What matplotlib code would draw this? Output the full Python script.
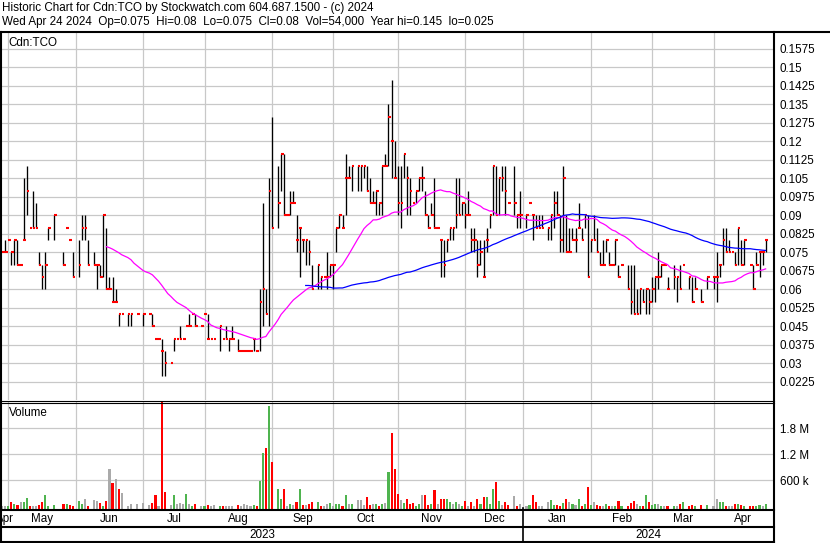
import numpy as np
import pandas as pd
import matplotlib
matplotlib.use("Agg")
import matplotlib.pyplot as plt

plt.rcParams['font.family'] = ['Liberation Sans', 'DejaVu Sans']

N = None
# ---------------- data (one entry per trading day, 2023-04-27 .. 2024-04-24; None = no trade)
high_apr23 = [.075, .08]
low_apr23 = [.075, .075]
close_apr23 = [.075, .075]
vol_apr23 = [5, 5]

high_may = [.08, .075, .08, .08, .07, .105, .11, .085, .10, .095, .075, .07, .075, .085, N, .09, N, N, .075, .085, .08, .075]
low_may = [.08, .07, .07, .07, .07, .08, .09, .085, .085, .085, .07, .06, .06, .08, N, .08, N, N, .07, .085, .08, .065]
close_may = [.08, .075, .08, .07, .07, .08, .10, .085, .085, .085, .07, .065, .07, .085, N, .09, N, N, .07, .085, .08, .065]
vol_may = [5, 90, 60, 35, 110, 110, 192, 10, 5, 5, 30, 110, 261, 15, 0, 30, 0, 0, 45, 60, 30, 15]

high_jun = [N, .08, .09, .09, .08, N, .075, .07, .07, .09, .085, .065, .065, .06, .05, .05, N, .05, .05, N, .05, N]
low_jun = [N, .065, .08, .08, .07, N, .07, .06, .065, .065, .06, .06, .055, .055, .045, .05, N, .045, .045, N, .05, N]
close_jun = [N, .07, .085, .085, .07, N, .07, .07, .065, .09, .06, .06, .055, .055, .05, .05, N, .05, .05, N, .05, N]
vol_jun = [0, 125, 60, 169, 15, 0, 146, 125, 75, 10, 125, 861, 531, 623, 392, 307, 0, 15, 45, 0, 60, 0]

high_jul = [.05, N, .05, .05, .04, .04, .04, .035, N, .03, .04, .04, .045, .04, .045, .05, .05, .05, N, .045]
low_jul = [.045, N, .05, .045, .04, .04, .025, .025, N, .03, .035, .04, .04, .04, .045, .045, .05, .045, N, .045]
close_jul = [.05, N, .05, .045, .04, .04, .035, .03, N, .03, .04, .04, .04, .04, .045, .045, .05, .045, N, .045]
vol_jul = [75, 0, 30, 75, 261, 15, 2600, 323, 0, 30, 261, 60, 75, 60, 284, 45, 5, 45, 0, 15]

high_aug = [.05, .05, .04, .04, N, .045, .04, .045, .04, .045, N, .04, .035, .035, .035, .035, .04, .035, .06, .095, .06, .105]
low_aug = [.05, .04, .04, .04, N, .035, .04, .04, .035, .04, N, .035, .035, .035, .035, .035, .035, .035, .035, .045, .05, .045]
close_aug = [.05, .04, .04, .04, N, .045, .04, .04, .04, .04, N, .035, .035, .035, .035, .035, .04, .035, .055, .06, .05, .10]
vol_aug = [15, 30, 15, 30, 0, 15, 15, 10, 15, 15, 0, 30, 15, 60, 30, 15, 30, 10, 584, 1223, 1354, 2315]

high_sep = [.13, N, .11, .115, .115, .09, .10, .10, .09, .085, .08, .08, .08, .07, N, .07, .065, .065, .075, .07]
low_sep = [.085, N, .085, .10, .09, .09, .09, .095, .075, .065, .075, .07, .07, .06, N, .06, .06, .065, .06, .065]
close_sep = [.085, N, .095, .115, .09, .09, .095, .095, .08, .085, .08, .08, .075, .06, N, .07, .065, .065, .065, .07]
vol_sep = [1030, 0, 400, 169, 400, 5, 60, 30, 90, 400, 30, 30, 60, 110, 0, 90, 10, 5, 60, 75]

high_oct = [.07, .085, .09, .09, .115, .11, .11, N, .11, .11, .11, .11, .105, .10, .10, .095, .11, .115, .135, .145, .12]
low_oct = [.06, .075, .085, .085, .09, .105, .10, N, .10, .10, .105, .10, .095, .095, .09, .09, .09, .11, .11, .105, .105]
close_oct = [.07, .085, .09, .085, .105, .105, .11, N, .11, .11, .11, .10, .095, .095, .10, .095, .11, .11, .13, .12, .105]
vol_oct = [5, 60, 45, 10, 261, 60, 45, 0, 146, 146, 30, 215, 30, 45, 45, 15, 45, 75, 792, 1684, 861]

high_nov = [.11, .11, .115, .11, .105, .095, .10, .105, .11, .10, .09, .095, .105, .085, .08, .08, .08, .085, .085, .105, .105, .095]
low_nov = [.09, .085, .105, .09, .09, .095, .095, .10, .10, .09, .085, .09, .085, .085, .065, .065, .075, .08, .08, .085, .09, .09]
close_nov = [.095, .095, .115, .105, .10, .095, .10, .105, .105, .09, .085, .09, .085, .085, .08, .07, .08, .085, .085, .09, .09, .095]
vol_nov = [284, 146, 75, 169, 60, 75, 15, 45, 261, 261, 30, 45, 377, 45, 169, 169, 169, 110, 60, 110, 60, 15]

high_dec = [.095, .10, .085, .085, .08, .08, .08, .085, .09, .11, .11, .105, .11, .11, .095, N, .11, .09, .10]
low_dec = [.085, .09, .075, .075, .065, .07, .065, .075, .085, .09, .09, .09, .10, .09, .095, N, .09, .085, .085]
close_dec = [.09, .09, .08, .08, .07, .075, .065, .08, .09, .11, .09, .105, .105, .10, .095, N, .095, .09, .09]
vol_dec = [125, 15, 90, 10, 169, 60, 215, 215, 60, 400, 561, 125, 30, 110, 30, 0, 238, 5, 60]

high_jan = [N, .09, .095, .09, .09, .09, .09, N, .085, .09, .10, .10, .09, .11, .09, .085, .085, .085, .095, .085, .09, .09]
low_jan = [N, .085, .095, .08, .085, .085, .085, N, .08, .08, .085, .09, .075, .075, .075, .075, .08, .075, .085, .08, .085, .065]
close_jan = [N, .09, .095, .09, .085, .085, .085, N, .085, .09, .095, .09, .08, .105, .075, .075, .08, .08, .085, .08, .09, .065]
vol_jan = [0, 15, 30, 261, 90, 10, 15, 0, 90, 146, 30, 30, 15, 75, 169, 110, 60, 30, 169, 15, 60, 446]

high_feb = [.08, .09, .085, .075, .08, .08, .075, .07, .08, .07, .07, N, .07, .07, .07, .06, .06, .06, .06, .06]
low_feb = [.075, .08, .075, .07, .07, .075, .07, .07, .07, .065, .07, N, .06, .05, .05, .05, .05, .055, .05, .05]
close_feb = [.08, .08, .075, .07, .07, .08, .07, .07, .08, .065, .07, N, .06, .055, .05, .05, .06, .055, .06, .055]
vol_feb = [30, 110, 30, 15, 10, 45, 15, 10, 15, 125, 10, 0, 15, 75, 125, 45, 15, 10, 261, 90]

high_mar = [.065, .065, .075, .07, .07, .065, N, .07, .065, .07, .07, N, .065, .065, .065, N, .06, N, .065, N]
low_mar = [.055, .055, .06, .065, .07, .06, N, .06, .055, .06, .07, N, .06, .055, .06, N, .055, N, .06, N]
close_mar = [.06, .065, .065, .07, .07, .06, N, .065, .065, .06, .07, N, .065, .055, .06, N, .055, N, .065, N]
vol_mar = [30, 60, 60, 10, 10, 10, 0, 10, 10, 60, 110, 0, 10, 30, 15, 0, 30, 0, 30, 0]

high_apr24 = [.065, .075, .07, .085, .085, .08, .075, .075, .085, .08, .08, N, .07, .07, .075, .075, .075, .08]
low_apr24 = [.06, .055, .065, .07, .075, .075, .075, .07, .07, .07, .07, N, .07, .06, .07, .065, .07, .075]
close_apr24 = [.065, .065, .07, .08, .075, .075, .075, .07, .085, .07, .08, N, .07, .06, .07, .075, .075, .08]
vol_apr24 = [10, 169, 90, 90, 10, 10, 10, 45, 60, 30, 15, 0, 10, 10, 10, 30, 10, 54]

holidays = ["2023-05-22", "2023-07-03", "2023-08-07", "2023-09-04", "2023-10-09",
            "2023-12-25", "2023-12-26", "2024-01-01", "2024-02-19", "2024-03-29"]
price_ticks = [0.1575, 0.15, 0.1425, 0.135, 0.1275, 0.12, 0.1125, 0.105, 0.0975, 0.09,
               0.0825, 0.075, 0.0675, 0.06, 0.0525, 0.045, 0.0375, 0.03, 0.0225]
vol_ticks = [600e3, 1.2e6, 1.8e6]
vol_tick_labels = ["600 k", "1.2 M", "1.8 M"]
title1 = "Historic Chart for Cdn:TCO by Stockwatch.com 604.687.1500 - (c) 2024"
title2 = "Wed Apr 24 2024  Op=0.075  Hi=0.08  Lo=0.075  Cl=0.08  Vol=54,000  Year hi=0.145  lo=0.025"
symbol = "Cdn:TCO"
fast_window, slow_window = 35, 100

# ---------------- assemble
months = ["apr23", "may", "jun", "jul", "aug", "sep", "oct", "nov", "dec", "jan", "feb", "mar", "apr24"]
g = globals()
high = sum((g["high_" + m] for m in months), [])
low = sum((g["low_" + m] for m in months), [])
close = sum((g["close_" + m] for m in months), [])
volk = sum((g["vol_" + m] for m in months), [])

n = len(close)
dates = pd.bdate_range("2023-04-27", "2024-04-24")
dates = dates[~dates.isin(pd.to_datetime(holidays))][:n]
idx = np.arange(n)

hi = np.array([np.nan if v is None else v for v in high])
lo = np.array([np.nan if v is None else v for v in low])
cl = pd.Series([np.nan if v is None else v for v in close], dtype=float)
cl_ff = cl.ffill()
ma_fast = cl_ff.rolling(fast_window).mean()
ma_slow = cl_ff.rolling(slow_window).mean()
vol = np.array(volk, dtype=float) * 1000.0
chg = cl_ff.diff().fillna(0).values
vcol = np.where(chg > 1e-9, "#4fb44f", np.where(chg < -1e-9, "#ff0000", "#aaaaaa"))
traded = ~np.isnan(cl.values)

# ---------------- layout (pixel boxes)
W, H = 830, 543
fig = plt.figure(figsize=(W / 100, H / 100), dpi=100)
fig.patch.set_facecolor("white")


def box(x0, y0, x1, y1):
    return [x0 / W, 1 - y1 / H, (x1 - x0) / W, (y1 - y0) / H]


XL, XR = -0.05, 251.4
GRID = "#c8c8c8"
FS = 8.4

axp = fig.add_axes(box(2, 33, 773, 400))
axv = fig.add_axes(box(2, 402, 773, 509))
axd = fig.add_axes(box(2, 511, 773, 541))
ov = fig.add_axes(box(0, 0, W, H))
ov.set_xlim(0, W)
ov.set_ylim(H, 0)
ov.axis("off")
ov.patch.set_alpha(0)

month_starts = [i for i in range(1, n) if dates[i].month != dates[i - 1].month]
year_starts = [i for i in range(1, n) if dates[i].year != dates[i - 1].year]

for ax in (axp, axv, axd):
    ax.set_xlim(XL, XR)
    for s in ax.spines.values():
        s.set_visible(False)
    ax.set_xticks([])

# price panel
axp.set_ylim(0.01515, 0.16386)
for t in price_ticks:
    axp.axhline(t, color=GRID, lw=0.9, zorder=0)
for m in month_starts:
    axp.axvline(m, color=GRID, lw=0.9, zorder=0)
axp.vlines(idx[traded], lo[traded], hi[traded], color="black", lw=0.95, zorder=2)
axp.hlines(cl.values[traded], idx[traded] - 0.05, idx[traded] + 0.8, color="#ff0000", lw=1.5, zorder=3)
axp.plot(idx, ma_fast, color="#ff00ff", lw=0.9, zorder=4)
axp.plot(idx, ma_slow, color="#0000ff", lw=0.9, zorder=4)
axp.yaxis.tick_right()
axp.set_yticks(price_ticks)
axp.set_yticklabels([f"{t:.4f}".rstrip("0") for t in price_ticks])
axp.tick_params(axis="y", length=0, pad=5, labelsize=FS)

# volume panel
off = 62.3e3
axv.set_ylim(-off, 2407e3)
for t in vol_ticks:
    axv.axhline(t, color=GRID, lw=0.9, zorder=0)
for m in month_starts:
    axv.axvline(m, color=GRID, lw=0.9, zorder=0)
axv.bar(idx[traded], vol[traded] + off, bottom=-off, width=0.68, color=vcol[traded], zorder=2)
axv.yaxis.tick_right()
axv.set_yticks(vol_ticks)
axv.set_yticklabels(vol_tick_labels)
axv.tick_params(axis="y", length=0, pad=5, labelsize=FS)

# date rows
axd.set_ylim(0, 1)
axd.set_yticks([])
axd.patch.set_alpha(0)
bounds = [XL] + month_starts + [XR]
labels = [dates[0].strftime("%b")] + [dates[m].strftime("%b") for m in month_starts]
for k, lab in enumerate(labels):
    c = (bounds[k] + bounds[k + 1]) / 2
    axd.text(c, 0.74, lab, ha="center", va="center", fontsize=FS, clip_on=True)
ybounds = [XL] + year_starts + [XR]
ylabels = [str(dates[0].year)] + [str(dates[y].year) for y in year_starts]
for k, lab in enumerate(ylabels):
    c = (ybounds[k] + ybounds[k + 1]) / 2
    axd.text(c, 0.2, lab, ha="center", va="center", fontsize=FS, clip_on=True)
for y in year_starts:
    axd.axvline(y, color="black", lw=1.2, ymin=-0.1, ymax=1.1, clip_on=False)

# frame lines & texts (overlay in pixel coords)
K = "black"
ov.plot([0, W], [32, 32], color=K, lw=1.5)
ov.plot([1, 1], [32, H], color=K, lw=1.5)
ov.plot([773.7, 773.7], [32, H], color=K, lw=1.5)
ov.plot([0, 773.7], [400.5, 400.5], color=K, lw=0.8)
ov.plot([0, 773.7], [402.5, 402.5], color=K, lw=0.8)
ov.plot([0, 773.7], [510, 510], color=K, lw=1.5)
ov.plot([0, 773.7], [527, 527], color=K, lw=1.5)
ov.plot([0, 773.7], [542, 542], color=K, lw=1.5)

ov.text(2, 8.5, title1, ha="left", va="center", fontsize=FS)
ov.text(2, 22.5, title2, ha="left", va="center", fontsize=FS)
ov.text(8, 43, symbol, ha="left", va="center", fontsize=FS)
ov.text(9, 413, "Volume", ha="left", va="center", fontsize=FS)

fig.savefig("out.png", dpi=100)
